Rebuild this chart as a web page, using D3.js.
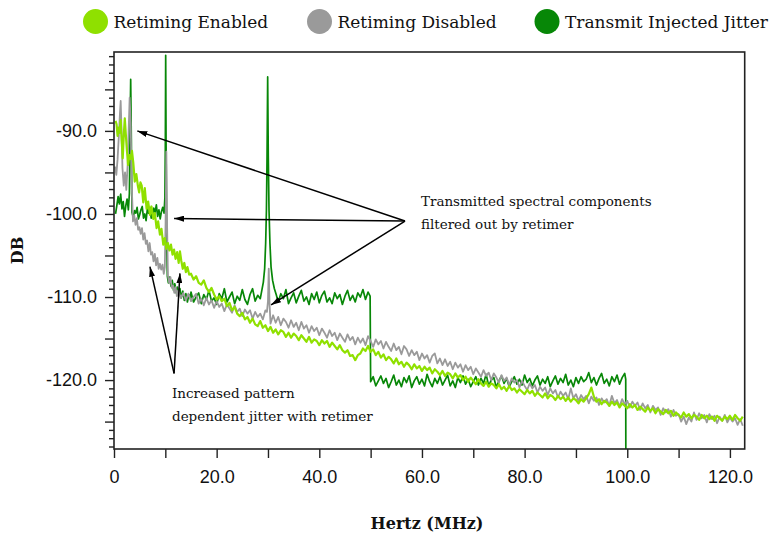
<!DOCTYPE html>
<html>
<head>
<meta charset="utf-8">
<script src="https://cdn.jsdelivr.net/npm/d3@7"></script>
<style>
  body { margin: 0; background: #fff; }
  svg { display: block; }
</style>
</head>
<body>
<div id="container"></div>
<script>
// series names and colours
const seriesNames = ["Retiming Enabled", "Retiming Disabled", "Transmit Injected Jitter"];
const seriesColors = ["#8fe000", "#9a9a9a", "#078707"];

// tick values
const xTicks = [0, 10, 20, 30, 40, 50, 60, 70, 80, 90, 100, 110, 120];
const xLabelTicks = [0, 20, 40, 60, 80, 100, 120];
const yMajorTicks = [-125, -120, -115, -110, -105, -100, -95, -90, -85];
const yLabelTicks = [-120, -110, -100, -90];
const yMinorTicks = [-128, -127, -126, -124, -123, -122, -121, -119, -118, -117, -116, -114, -113, -112, -111,
    -109, -108, -107, -106, -104, -103, -102, -101, -99, -98, -97, -96, -94, -93, -92, -91, -89, -88, -87, -86,
    -84, -83, -82, -81];

// [MHz, dB]
const retimingEnabled = [
    [0.3,-88.8],[0.5,-89.2],[0.7,-90.6],[0.9,-89.6],[1.1,-90.2],[1.3,-88.7],[1.5,-91.2],[1.7,-93.3],[1.9,-90.6],
    [2.1,-88.5],[2.3,-90.4],[2.5,-92.2],[2.75,-94.1],[3.0,-92.9],[3.25,-93.4],[3.5,-92.4],[3.75,-93.8],[4.05,-96.1],
    [4.35,-95.2],[4.65,-96.6],[4.9,-97.4],[5.15,-96.2],[5.4,-96.6],[5.7,-98.6],[6.0,-96.9],[6.35,-99.4],[6.65,-98.5],
    [7.0,-100.1],[7.3,-99.1],[7.65,-100.6],[7.95,-99.9],[8.3,-101.7],[8.6,-100.9],[8.95,-102.5],[9.25,-101.8],
    [9.6,-103.7],[9.9,-102.9],[10.2,-104.2],[10.5,-103.5],[10.8,-104.4],[11.1,-103.7],[11.4,-104.9],[11.7,-104.3],
    [12.0,-105.4],[12.3,-104.6],[12.6,-105.9],[12.85,-104.5],[13.1,-105.6],[13.4,-106.6],[13.7,-105.9],[14.0,-107.0],
    [14.3,-106.4],[14.65,-107.3],[15.0,-107.2],[15.5,-107.9],[16.0,-107.5],[16.5,-108.3],[17.0,-108.5],[17.5,-108.0],
    [18.0,-108.9],[18.5,-109.4],[19.0,-108.9],[19.5,-109.7],[20.0,-110.3],[20.5,-109.9],[21.0,-110.5],[21.5,-110.2],
    [22.0,-111.1],[22.5,-110.7],[23.0,-111.6],[23.5,-111.2],[24.0,-112.0],[24.5,-112.3],[25.0,-111.9],[25.5,-112.7],
    [26.0,-112.4],[26.5,-113.1],[27.0,-112.6],[27.5,-113.3],[28.0,-113.5],[28.5,-112.9],[29.0,-113.7],[29.5,-113.4],
    [30.0,-114.1],[30.5,-113.6],[31.0,-114.3],[31.5,-113.9],[32.0,-114.5],[32.5,-114.0],[33.0,-114.2],[33.5,-114.8],
    [34.0,-114.3],[34.5,-114.9],[35.0,-114.4],[35.5,-114.7],[36.0,-115.2],[36.5,-114.6],[37.0,-115.0],[37.5,-115.4],
    [38.0,-114.8],[38.5,-115.5],[39.0,-115.1],[39.5,-115.3],[40.0,-115.8],[40.5,-115.2],[41.0,-115.6],[41.5,-115.3],
    [42.0,-116.0],[42.5,-115.5],[43.0,-115.9],[43.5,-116.3],[44.0,-115.8],[44.5,-116.4],[45.0,-116.7],[45.5,-116.4],
    [46.0,-117.1],[46.5,-117.0],[47.0,-117.6],[47.5,-117.0],[48.0,-116.8],[48.5,-116.2],[49.0,-116.5],[49.5,-115.9],
    [50.0,-116.6],[50.5,-116.3],[51.0,-117.0],[51.5,-116.6],[52.0,-117.3],[52.5,-116.9],[53.0,-117.6],[53.5,-117.2],
    [54.0,-117.5],[54.5,-118.0],[55.0,-117.4],[55.5,-118.1],[56.0,-117.8],[56.5,-118.4],[57.0,-117.9],[57.5,-118.2],
    [58.0,-118.7],[58.5,-118.1],[59.0,-118.6],[59.5,-118.3],[60.0,-118.9],[60.5,-118.4],[61.0,-118.8],[61.5,-118.5],
    [62.0,-119.2],[62.5,-118.7],[63.0,-119.0],[63.5,-119.4],[64.0,-118.9],[64.5,-119.5],[65.0,-119.1],[65.5,-119.3],
    [66.0,-119.8],[66.5,-119.2],[67.0,-119.7],[67.5,-119.4],[68.0,-120.0],[68.5,-119.6],[69.0,-120.2],[69.5,-119.7],
    [70.0,-120.1],[70.5,-120.5],[71.0,-119.9],[71.5,-120.4],[72.0,-120.7],[72.5,-120.2],[73.0,-120.8],[73.5,-120.4],
    [74.0,-120.6],[74.5,-121.0],[75.0,-120.5],[75.5,-121.1],[76.0,-120.8],[76.5,-121.3],[77.0,-120.7],[77.5,-121.2],
    [78.0,-121.0],[78.5,-121.5],[79.0,-121.1],[79.5,-121.4],[80.0,-121.7],[80.5,-121.2],[81.0,-121.6],[81.5,-121.3],
    [82.0,-121.9],[82.5,-121.5],[83.0,-121.8],[83.5,-122.1],[84.0,-121.6],[84.5,-122.2],[85.0,-121.8],[85.5,-122.0],
    [86.0,-122.4],[86.5,-121.9],[87.0,-122.3],[87.5,-122.0],[88.0,-122.5],[88.5,-122.1],[89.0,-122.6],[89.5,-122.2],
    [90.0,-122.4],[90.5,-122.8],[91.0,-122.3],[91.5,-122.6],[92.0,-122.2],[92.5,-121.7],[93.0,-120.9],[93.5,-122.0],
    [94.0,-122.6],[94.5,-122.3],[95.0,-122.9],[95.5,-122.5],[96.0,-122.7],[96.5,-123.1],[97.0,-122.6],[97.5,-123.0],
    [98.0,-122.7],[98.5,-123.3],[99.0,-122.8],[99.5,-123.1],[100.0,-123.4],[100.5,-122.9],[101.0,-123.3],[101.5,-123.0],
    [102.0,-123.6],[102.5,-123.2],[103.0,-123.5],[103.5,-123.8],[104.0,-123.3],[104.5,-123.7],[105.0,-123.4],[105.5,-124.0],
    [106.0,-123.5],[106.5,-123.8],[107.0,-124.1],[107.5,-123.6],[108.0,-124.0],[108.5,-123.7],[109.0,-124.3],[109.5,-123.9],
    [110.0,-124.2],[110.5,-124.5],[111.0,-123.9],[111.5,-124.4],[112.0,-124.1],[112.5,-124.6],[113.0,-124.2],[113.5,-124.4],
    [114.0,-124.8],[114.5,-124.2],[115.0,-124.6],[115.5,-124.3],[116.0,-124.7],[116.5,-124.4],[117.0,-124.9],[117.5,-124.3],
    [118.0,-124.6],[118.5,-124.9],[119.0,-124.4],[119.5,-124.7],[120.0,-124.3],[120.5,-124.8],[121.0,-124.2],[121.5,-124.6],
    [122.0,-124.9],[122.5,-124.4]
];

const retimingDisabled = [
    [0.2,-94.3],[0.45,-95.3],[0.7,-93.4],[0.95,-90.5],[1.15,-88.0],[1.3,-86.4],[1.45,-89.5],[1.65,-94.5],[1.9,-96.6],
    [2.15,-95.0],[2.4,-97.1],[2.65,-94.2],[2.85,-90.0],[3.05,-86.0],[3.25,-89.0],[3.45,-96.5],[3.7,-100.9],[3.95,-100.2],
    [4.2,-101.3],[4.45,-100.5],[4.7,-101.9],[4.95,-101.6],[5.2,-102.4],[5.45,-101.7],[5.7,-103.1],[5.95,-102.3],
    [6.2,-103.6],[6.45,-103.2],[6.7,-104.5],[6.95,-103.5],[7.2,-104.9],[7.45,-104.6],[7.7,-105.7],[7.95,-104.8],
    [8.2,-106.2],[8.45,-105.3],[8.7,-106.6],[8.95,-106.0],[9.2,-106.7],[9.45,-106.1],[9.7,-107.2],[9.9,-106.4],
    [10.05,-101.0],[10.2,-92.5],[10.35,-101.5],[10.5,-107.4],[10.75,-108.3],[11.0,-107.6],[11.25,-108.9],[11.5,-108.6],
    [11.75,-109.5],[12.0,-108.8],[12.25,-109.9],[12.5,-109.2],[13.0,-110.1],[13.5,-109.5],[14.0,-110.4],[14.5,-109.6],
    [15.0,-110.5],[15.5,-110.0],[16.0,-109.6],[16.5,-110.8],[17.0,-110.2],[17.5,-111.0],[18.0,-110.1],[18.5,-110.9],
    [19.0,-110.4],[19.5,-111.3],[20.0,-110.5],[20.5,-111.2],[21.0,-110.8],[21.5,-111.7],[22.0,-110.9],[22.5,-111.4],
    [23.0,-111.9],[23.5,-111.0],[24.0,-111.8],[24.5,-111.4],[25.0,-112.3],[25.5,-111.5],[26.0,-112.0],[26.5,-111.6],
    [27.0,-112.6],[27.5,-111.8],[28.0,-112.4],[28.5,-112.0],[29.0,-112.7],[29.5,-111.6],[29.8,-111.8],[30.0,-110.5],
    [30.15,-106.6],[30.3,-110.8],[30.5,-113.2],[31.0,-112.2],[31.5,-113.1],[32.0,-112.4],[32.5,-113.4],[33.0,-112.6],
    [33.5,-113.0],[34.0,-113.7],[34.5,-112.8],[35.0,-113.6],[35.5,-113.1],[36.0,-114.0],[36.5,-113.0],[37.0,-113.8],
    [37.5,-113.4],[38.0,-114.3],[38.5,-113.5],[39.0,-114.1],[39.5,-113.7],[40.0,-114.6],[40.5,-113.8],[41.0,-114.3],
    [41.5,-114.9],[42.0,-114.0],[42.5,-114.7],[43.0,-114.3],[43.5,-115.2],[44.0,-114.4],[44.5,-114.9],[45.0,-115.4],
    [45.5,-114.5],[46.0,-115.2],[46.5,-114.8],[47.0,-115.7],[47.5,-114.9],[48.0,-115.5],[48.5,-115.0],[49.0,-115.8],
    [49.5,-114.7],[50.0,-115.3],[50.5,-116.0],[51.0,-115.1],[51.5,-115.7],[52.0,-115.3],[52.5,-116.2],[53.0,-115.4],
    [53.5,-116.0],[54.0,-116.5],[54.5,-115.6],[55.0,-116.4],[55.5,-116.0],[56.0,-116.9],[56.5,-115.9],[57.0,-116.3],
    [57.5,-117.1],[58.0,-116.4],[58.5,-117.0],[59.0,-116.6],[59.5,-117.6],[60.0,-116.8],[60.5,-117.4],[61.0,-117.0],
    [61.5,-117.9],[62.0,-117.1],[62.5,-116.8],[63.0,-118.0],[63.5,-117.4],[64.0,-118.2],[64.5,-117.5],[65.0,-118.3],
    [65.5,-117.8],[66.0,-118.7],[66.5,-117.9],[67.0,-118.5],[67.5,-118.1],[68.0,-119.0],[68.5,-118.2],[69.0,-118.8],
    [69.5,-118.4],[70.0,-119.3],[70.5,-118.6],[71.0,-119.1],[71.5,-119.6],[72.0,-118.8],[72.5,-119.5],[73.0,-119.1],
    [73.5,-120.0],[74.0,-119.2],[74.5,-119.7],[75.0,-120.3],[75.5,-119.4],[76.0,-120.1],[76.5,-119.7],[77.0,-120.6],
    [77.5,-119.8],[78.0,-120.3],[78.5,-120.0],[79.0,-120.9],[79.5,-120.1],[80.0,-120.7],[80.5,-121.2],[81.0,-120.4],
    [81.5,-121.0],[82.0,-120.6],[82.5,-121.5],[83.0,-120.8],[83.5,-121.3],[84.0,-120.9],[84.5,-121.8],[85.0,-121.0],
    [85.5,-121.6],[86.0,-121.2],[86.5,-122.1],[87.0,-121.4],[87.5,-121.9],[88.0,-121.5],[88.5,-122.3],[89.0,-121.0],
    [89.5,-122.2],[90.0,-121.7],[90.5,-122.5],[91.0,-121.8],[91.5,-122.3],[92.0,-121.9],[92.5,-122.8],[93.0,-122.0],
    [93.5,-122.5],[94.0,-122.1],[94.5,-123.0],[95.0,-122.2],[95.5,-122.7],[96.0,-122.3],[96.5,-123.1],[97.0,-121.9],
    [97.5,-122.8],[98.0,-122.4],[98.5,-123.2],[99.0,-122.3],[99.5,-122.9],[100.0,-122.5],[100.5,-123.3],[101.0,-122.6],
    [101.5,-123.1],[102.0,-122.7],[102.5,-123.6],[103.0,-122.8],[103.5,-123.4],[104.0,-123.0],[104.5,-123.9],[105.0,-123.1],
    [105.5,-123.6],[106.0,-123.3],[106.5,-124.2],[107.0,-123.4],[107.5,-123.9],[108.0,-123.5],[108.5,-124.4],[109.0,-123.6],
    [109.5,-124.3],[110.0,-124.1],[110.5,-125.0],[111.0,-124.4],[111.5,-125.3],[112.0,-124.5],[112.5,-125.0],[113.0,-123.9],
    [113.5,-124.8],[114.0,-124.0],[114.5,-124.6],[115.0,-124.2],[115.5,-125.1],[116.0,-124.1],[116.5,-124.7],[117.0,-124.3],
    [117.5,-125.2],[118.0,-124.4],[118.5,-124.9],[119.0,-124.2],[119.5,-125.1],[120.0,-124.5],[120.5,-125.0],[121.0,-124.6],
    [121.5,-125.4],[122.0,-124.7],[122.5,-125.5]
];

const transmitJitter = [
    [0.3,-100.0],[0.55,-99.0],[0.8,-97.9],[1.05,-98.8],[1.3,-97.6],[1.55,-99.4],[1.8,-98.5],[2.05,-100.3],[2.3,-99.0],
    [2.55,-98.2],[2.8,-99.5],[3.0,-97.5],[3.12,-90.0],[3.25,-83.8],[3.38,-91.0],[3.5,-99.8],[3.75,-100.4],[4.0,-99.6],
    [4.25,-99.9],[4.5,-99.2],[4.75,-100.6],[5.0,-100.1],[5.25,-99.5],[5.5,-99.1],[5.75,-100.5],[6.0,-100.0],[6.25,-100.8],
    [6.5,-99.4],[6.75,-99.9],[7.0,-99.2],[7.25,-100.5],[7.5,-100.1],[7.75,-99.3],[8.0,-99.8],[8.25,-98.9],[8.5,-100.3],
    [8.75,-99.5],[9.0,-100.6],[9.25,-99.7],[9.5,-99.2],[9.75,-99.9],[9.92,-98.0],[10.0,-92.0],[10.07,-80.9],[10.15,-92.0],
    [10.25,-103.0],[10.4,-107.5],[10.6,-108.3],[10.85,-107.6],[11.1,-108.7],[11.35,-108.0],[11.6,-109.2],[11.85,-108.4],
    [12.1,-109.5],[12.35,-108.8],[12.6,-109.8],[12.85,-109.0],[13.1,-110.1],[13.4,-109.3],[13.7,-110.4],[14.0,-109.6],
    [14.3,-110.6],[14.6,-109.7],[14.9,-110.2],[15.0,-109.4],[15.5,-110.6],[16.0,-110.0],[16.5,-109.5],[17.0,-110.8],
    [17.5,-109.7],[18.0,-110.3],[18.5,-109.2],[19.0,-110.5],[19.5,-110.1],[20.0,-110.9],[20.5,-109.6],[21.0,-110.2],
    [21.5,-109.0],[22.0,-110.6],[22.5,-110.0],[23.0,-109.4],[23.5,-110.8],[24.0,-109.9],[24.5,-110.4],[25.0,-109.1],
    [25.5,-110.3],[26.0,-110.9],[26.5,-109.7],[27.0,-109.0],[27.5,-110.5],[28.0,-109.8],[28.5,-110.2],[28.8,-109.2],
    [29.1,-108.2],[29.35,-106.6],[29.55,-103.5],[29.7,-99.5],[29.82,-93.0],[29.94,-83.5],[30.06,-93.0],[30.2,-99.5],
    [30.38,-103.5],[30.6,-106.4],[30.9,-108.0],[31.25,-109.0],[31.6,-109.7],[32.0,-110.6],[32.5,-109.6],[33.0,-110.2],
    [33.5,-109.1],[34.0,-110.8],[34.5,-110.1],[35.0,-109.5],[35.5,-110.7],[36.0,-109.9],[36.5,-109.2],[37.0,-110.5],
    [37.5,-110.0],[38.0,-110.9],[38.5,-109.6],[39.0,-110.3],[39.5,-109.4],[40.0,-110.7],[40.5,-109.8],[41.0,-109.3],
    [41.5,-110.6],[42.0,-110.1],[42.5,-110.8],[43.0,-109.5],[43.5,-110.2],[44.0,-109.7],[44.5,-110.9],[45.0,-109.9],
    [45.5,-109.2],[46.0,-110.4],[46.5,-109.8],[47.0,-110.6],[47.5,-109.5],[48.0,-110.0],[48.5,-109.1],[49.0,-110.3],
    [49.5,-109.4],[49.9,-109.9],[50.0,-120.2],[50.5,-119.6],[51.0,-120.7],[51.5,-120.1],[52.0,-119.5],[52.5,-120.4],
    [53.0,-119.8],[53.5,-120.9],[54.0,-120.2],[54.5,-119.4],[55.0,-120.6],[55.5,-120.0],[56.0,-120.8],[56.5,-119.7],
    [57.0,-120.3],[57.5,-119.5],[58.0,-120.9],[58.5,-120.1],[59.0,-119.6],[59.5,-120.5],[60.0,-119.9],[60.5,-120.7],
    [61.0,-119.3],[61.5,-120.2],[62.0,-120.8],[62.5,-119.8],[63.0,-120.4],[63.5,-119.6],[64.0,-120.6],[64.5,-120.0],
    [65.0,-119.4],[65.5,-120.7],[66.0,-120.1],[66.5,-120.9],[67.0,-119.7],[67.5,-120.3],[68.0,-119.5],[68.5,-120.5],
    [69.0,-119.9],[69.5,-120.8],[70.0,-120.2],[70.5,-119.6],[71.0,-120.6],[71.5,-119.8],[72.0,-120.4],[72.5,-119.3],
    [73.0,-120.7],[73.5,-120.0],[74.0,-119.7],[74.5,-120.9],[75.0,-120.1],[75.5,-119.5],[76.0,-120.4],[76.5,-119.8],
    [77.0,-120.8],[77.5,-120.2],[78.0,-119.6],[78.5,-120.5],[79.0,-119.9],[79.5,-120.6],[80.0,-119.4],[80.5,-120.3],
    [81.0,-119.8],[81.5,-120.7],[82.0,-120.0],[82.5,-119.5],[83.0,-120.6],[83.5,-119.9],[84.0,-120.4],[84.5,-119.6],
    [85.0,-120.8],[85.5,-120.1],[86.0,-119.5],[86.5,-120.5],[87.0,-119.8],[87.5,-120.3],[88.0,-119.3],[88.5,-120.6],
    [89.0,-120.0],[89.5,-120.8],[90.0,-119.7],[90.5,-120.4],[91.0,-119.6],[91.5,-120.2],[92.0,-119.9],[92.5,-119.1],
    [93.0,-120.3],[93.5,-119.7],[94.0,-120.6],[94.5,-119.8],[95.0,-119.2],[95.5,-120.4],[96.0,-119.9],[96.5,-120.7],
    [97.0,-119.6],[97.5,-120.2],[98.0,-119.4],[98.5,-120.5],[99.0,-119.7],[99.5,-119.2],[99.7,-119.9],[99.75,-140]
];

// annotation texts
const noteFiltered = ["Transmitted spectral components", "filtered out by retimer"];
const notePattern = ["Increased pattern", "dependent jitter with retimer"];

// Set up the chart
const width = 771;
const height = 534;
const plot = { left: 114, top: 52, right: 744.7, bottom: 449 };
const tickFont = '"Liberation Sans", Arial, sans-serif';
const slabFont = '"DejaVu Serif", serif';

const x = d3.scaleLinear([0, 122.88], [plot.left, plot.right]);
const y = d3.scaleLinear([-128.3, -80.5], [plot.bottom, plot.top]);

const svg = d3.select("div#container").append("svg")
    .attr("width", width)
    .attr("height", height);

svg.append("clipPath")
    .attr("id", "plot-clip")
    .append("rect")
    .attr("x", plot.left)
    .attr("y", plot.top)
    .attr("width", plot.right - plot.left)
    .attr("height", plot.bottom - plot.top);

// arrow head
svg.append("defs").append("marker")
    .attr("id", "arrow")
    .attr("viewBox", "0 0 10 6")
    .attr("refX", 10)
    .attr("refY", 3)
    .attr("markerWidth", 10)
    .attr("markerHeight", 6)
    .attr("markerUnits", "userSpaceOnUse")
    .attr("orient", "auto")
    .append("path")
    .attr("d", "M0,0L10,3L0,6Z")
    .attr("fill", "#000");

// Draw the lines (bottom one first)
const line = d3.line().x(d => x(d[0])).y(d => y(d[1]));
const lineData = [
    { values: transmitJitter, color: seriesColors[2], width: 1.7 },
    { values: retimingDisabled, color: seriesColors[1], width: 1.8 },
    { values: retimingEnabled, color: seriesColors[0], width: 2.2 }
];

svg.append("g")
    .attr("clip-path", "url(#plot-clip)")
    .selectAll("path")
    .data(lineData)
    .enter()
    .append("path")
    .attr("d", d => line(d.values))
    .attr("fill", "none")
    .attr("stroke", d => d.color)
    .attr("stroke-width", d => d.width)
    .attr("stroke-linejoin", "round");

// Draw the y axis
const yMinor = svg.append("g")
    .attr("transform", `translate(${plot.left},0)`)
    .call(d3.axisLeft(y).tickValues(yMinorTicks).tickSize(5).tickFormat(""));

const yMajor = svg.append("g")
    .attr("transform", `translate(${plot.left},0)`)
    .call(d3.axisLeft(y).tickValues(yMajorTicks).tickSize(9).tickPadding(8)
        .tickFormat(d => yLabelTicks.includes(d) ? d.toFixed(1) : ""));

// Draw the x axis
const xAxis = svg.append("g")
    .attr("transform", `translate(0,${plot.bottom})`)
    .call(d3.axisBottom(x).tickValues(xTicks).tickSize(9).tickPadding(12)
        .tickFormat(d => xLabelTicks.includes(d) ? (d === 0 ? "0" : d.toFixed(1)) : ""));

[yMinor, yMajor, xAxis].forEach(g => {
    g.select(".domain").remove();
    g.selectAll(".tick line").attr("stroke", "#222").attr("stroke-width", 1.4);
    g.selectAll(".tick text")
        .attr("fill", "#111")
        .attr("font-family", tickFont)
        .attr("font-size", 18);
});

// Frame
svg.append("rect")
    .attr("x", plot.left)
    .attr("y", plot.top)
    .attr("width", plot.right - plot.left)
    .attr("height", plot.bottom - plot.top)
    .attr("fill", "none")
    .attr("stroke", "#222")
    .attr("stroke-width", 1.6);

// Axis titles
svg.append("text")
    .text("DB")
    .attr("transform", `translate(23,${(plot.top + plot.bottom) / 2})rotate(-90)`)
    .attr("text-anchor", "middle")
    .attr("font-family", slabFont)
    .attr("font-weight", "bold")
    .attr("font-size", 16)
    .attr("fill", "#111");

svg.append("text")
    .text("Hertz (MHz)")
    .attr("x", 427)
    .attr("y", 529)
    .attr("text-anchor", "middle")
    .attr("font-family", slabFont)
    .attr("font-weight", "bold")
    .attr("font-size", 16)
    .attr("fill", "#111");

// Legend
const legendX = [95.5, 319.5, 547];
const legend = svg.selectAll("g.legend")
    .data(seriesNames)
    .enter()
    .append("g")
    .classed("legend", true)
    .attr("transform", (d, i) => `translate(${legendX[i]},21.5)`);

legend.append("circle")
    .attr("r", 12.5)
    .attr("fill", (d, i) => seriesColors[i]);

legend.append("text")
    .text(d => d)
    .attr("x", 18)
    .attr("y", 6.5)
    .attr("font-family", slabFont)
    .attr("font-size", 17)
    .attr("fill", "#111");

// Annotations, anchored in [MHz, dB]
function drawNote(lines, at, from, targets) {
    const g = svg.append("g");
    targets.forEach(t => {
        g.append("line")
            .attr("x1", x(from[0]))
            .attr("y1", y(from[1]))
            .attr("x2", x(t[0]))
            .attr("y2", y(t[1]))
            .attr("stroke", "#000")
            .attr("stroke-width", 1.5)
            .attr("marker-end", "url(#arrow)");
    });
    g.selectAll("text")
        .data(lines)
        .enter()
        .append("text")
        .text(d => d)
        .attr("x", x(at[0]))
        .attr("y", (d, i) => y(at[1]) + i * 22.5)
        .attr("font-family", slabFont)
        .attr("font-size", 13.5)
        .attr("fill", "#111");
}

drawNote(noteFiltered, [59.8, -99.05], [56.7, -100.85], [[4.54, -90.0], [11.7, -100.55], [30.6, -110.95]]);
drawNote(notePattern, [11.3, -122.2], [11.7, -119.2], [[7.0, -106.35], [12.85, -107.15]]);
</script>
</body>
</html>
